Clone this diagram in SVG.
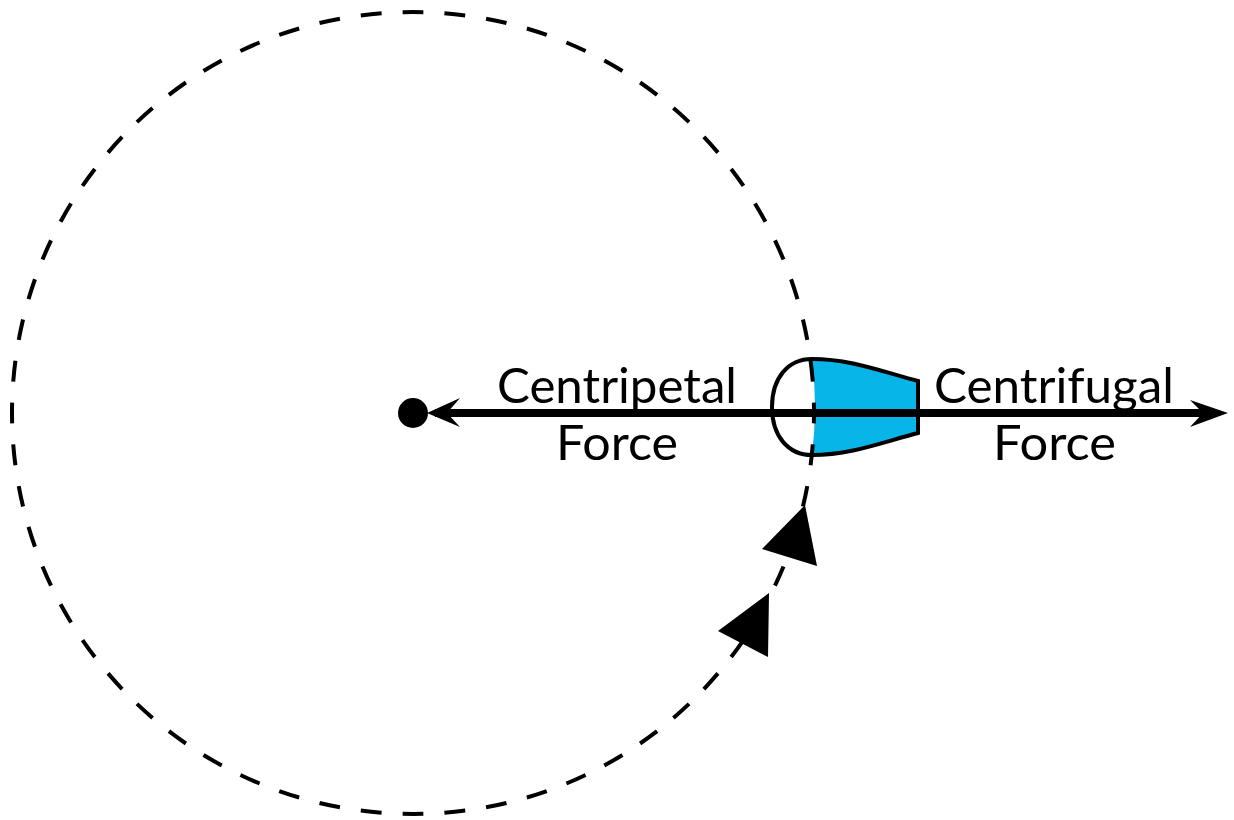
<svg xmlns="http://www.w3.org/2000/svg" width="1234" height="820" viewBox="0 0 1234 820">
<style>
text{font-family:"Lato","Noto Sans",sans-serif;font-size:48px;fill:#000}
.o{fill:none;stroke:#000;stroke-width:4}
.h{fill:none;stroke:#000;stroke-width:8}
</style>
<rect width="1234" height="820" fill="#fff"/>
<g id="body">
<path d="M812 360C850 360 880 371 918 381V433C880 443 850 455 812 455Q818 407 812 360Z" fill="#08b5e8"/>
<path d="M918 381C880 371 850 359 812 359C788 359 772 378 772 407C772 436 788 455 812 455C850 455 880 443 918 433Z" class="o"/>
</g>
<g id="orbit"><circle cx="413" cy="413" r="401" fill="none" stroke="#000" stroke-width="4" pathLength="2520" stroke-dasharray="21 21" stroke-dashoffset="10.5"/></g>
<g id="connectors">
<path d="M435 413H1210" class="h"/>
<path d="M427 413L460 398L447 413L460 427Z"/>
<path d="M1228 413L1190 400L1203 413L1190 427Z"/>
<circle cx="413" cy="413" r="15"/>
<path d="M805 505L762 549L817 566Z"/>
<path d="M769 593L718 631L768 657Z"/>
</g>
<g id="labels">
<text x="497" y="403" textLength="240" lengthAdjust="spacingAndGlyphs">Centripetal</text>
<text x="556" y="460" textLength="122" lengthAdjust="spacingAndGlyphs">Force</text>
<text x="934" y="403" textLength="240" lengthAdjust="spacingAndGlyphs">Centrifugal</text>
<text x="993" y="460" textLength="123" lengthAdjust="spacingAndGlyphs">Force</text>
</g>
</svg>
